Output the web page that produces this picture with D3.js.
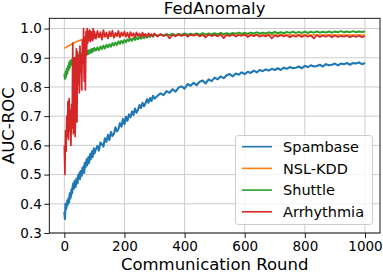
<!DOCTYPE html>
<html>
<head>
<meta charset="utf-8">
<script src="https://cdn.jsdelivr.net/npm/d3@7"></script>
<style>
  html, body { margin: 0; padding: 0; background: #fff; }
  svg { display: block; font-family: "DejaVu Sans", sans-serif; }
</style>
</head>
<body>
<svg id="chart" width="383" height="274"></svg>
<script>
// ---------- data ----------
const title = "FedAnomaly";
const xLabel = "Communication Round";
const yLabel = "AUC-ROC";
const seriesNames = ["Spambase", "NSL-KDD", "Shuttle", "Arrhythmia"];
const xTicks = [0, 200, 400, 600, 800, 1000];
const yTicks = [0.3, 0.4, 0.5, 0.6, 0.7, 0.8, 0.9, 1.0];

// rounds shared by Spambase, Shuttle, Arrhythmia
const roundsDense = [].concat(
  d3.range(0, 101, 2),
  d3.range(105, 301, 5),
  d3.range(310, 1001, 10)
);

const spambase = [
  0.372,0.348,0.400,0.382,0.392,0.412,0.398,0.420,0.405,0.436,0.418,0.428,0.450,0.436,0.462,0.470,0.452,0.478,0.466,0.458,
  0.486,0.480,0.470,0.498,0.490,0.505,0.484,0.512,0.500,0.496,0.522,0.514,0.528,0.506,0.540,0.524,0.534,0.552,0.532,0.546,
  0.560,0.540,0.556,0.570,0.552,0.566,0.580,0.560,0.574,0.590,0.572,
  0.586,0.598,0.582,0.610,0.604,0.596,0.624,0.612,0.636,0.618,0.646,0.632,0.640,0.662,0.648,0.656,0.676,0.664,0.690,0.672,
  0.698,0.684,0.706,0.696,0.716,0.704,0.726,0.712,0.722,0.738,0.728,0.746,0.734,0.744,0.758,0.746,0.762,0.752,0.770,0.760,
  0.770,0.778,0.772,0.786,0.780,0.792,0.784,0.798,0.802,0.794,
  0.810,0.804,0.814,0.806,0.818,0.822,0.812,0.826,0.820,0.832,
  0.826,0.836,0.830,0.840,0.844,0.836,0.846,0.842,0.850,0.844,
  0.852,0.848,0.856,0.850,0.858,0.854,0.860,0.856,0.862,0.858,
  0.864,0.858,0.866,0.862,0.868,0.864,0.866,0.870,0.864,0.872,
  0.868,0.874,0.870,0.872,0.876,0.870,0.878,0.874,0.876,0.880,
  0.874,0.880,0.878,0.882,0.876,0.882,0.880,0.884,0.878,0.882
];

const shuttle = [
  0.845,0.828,0.852,0.835,0.862,0.846,0.872,0.858,0.884,0.866,0.890,0.874,0.892,0.882,0.896,0.882,0.900,0.886,0.898,0.892,
  0.905,0.891,0.906,0.898,0.910,0.896,0.911,0.902,0.913,0.901,0.916,0.906,0.915,0.908,0.919,0.908,0.921,0.912,0.922,0.912,
  0.925,0.914,0.926,0.918,0.927,0.918,0.930,0.920,0.931,0.924,0.933,
  0.925,0.935,0.926,0.938,0.930,0.941,0.932,0.944,0.936,0.946,0.938,0.950,0.942,0.952,0.944,0.956,0.948,0.958,0.950,0.961,
  0.953,0.963,0.957,0.966,0.958,0.968,0.961,0.969,0.963,0.972,0.965,0.973,0.967,0.975,0.969,0.977,0.971,0.978,0.972,0.979,
  0.975,0.980,0.976,0.981,0.977,0.982,0.977,0.981,0.978,0.983,0.978,0.982,0.979,0.983,0.979,0.984,0.980,0.983,0.980,0.984,
  0.980,0.985,0.981,0.984,0.981,0.985,0.982,0.986,0.982,0.985,0.982,0.986,0.983,0.987,0.983,0.986,0.983,0.987,0.984,0.988,
  0.984,0.987,0.984,0.988,0.985,0.989,0.985,0.988,0.985,0.989,0.985,0.989,0.986,0.990,0.986,0.989,0.986,0.990,0.986,0.990,
  0.987,0.991,0.987,0.990,0.987,0.991,0.987,0.990,0.988,0.990
];

const arrhythmia = [
  0.60,0.50,0.65,0.58,0.70,0.63,0.75,0.62,0.76,0.65,0.72,0.60,0.74,0.66,0.95,0.64,0.70,0.90,0.63,0.76,
  0.93,0.68,0.92,0.81,0.90,0.78,0.94,0.85,0.91,0.79,0.96,0.88,1.00,0.82,0.97,0.79,0.99,0.91,1.00,0.95,
  0.99,0.96,0.995,0.955,0.99,0.962,0.988,0.958,1.00,0.965,0.99,
  0.965,0.992,0.970,0.988,0.962,0.995,0.972,0.986,0.966,0.990,0.974,0.993,0.968,0.985,0.975,0.992,0.970,0.987,0.976,0.990,
  0.972,0.986,0.968,0.988,0.975,0.984,0.970,0.987,0.975,0.983,0.972,0.986,0.974,0.982,0.970,0.984,0.975,0.981,0.973,0.983,
  0.972,0.981,0.974,0.980,0.966,0.979,0.973,0.982,0.974,0.980,0.972,0.979,0.975,0.981,0.973,0.978,0.970,0.980,0.974,0.979,
  0.973,0.980,0.967,0.978,0.974,0.980,0.972,0.978,0.975,0.980,0.971,0.978,0.974,0.979,0.972,0.977,0.973,0.979,0.966,0.977,
  0.972,0.978,0.973,0.977,0.970,0.976,0.972,0.978,0.971,0.977,0.972,0.976,0.966,0.977,0.971,0.976,0.972,0.977,0.970,0.976,
  0.971,0.975,0.972,0.976,0.970,0.975,0.971,0.976,0.970,0.974
];

const nslRounds = [0,5,10,15,20,25,30,40,50,60,75,100,150,200,300,400,500,600,700,800,900,1000];
const nslkdd = [0.932,0.935,0.938,0.941,0.944,0.947,0.950,0.955,0.959,0.962,0.966,0.970,0.974,0.976,0.977,0.977,0.978,0.978,0.978,0.978,0.978,0.978];

const colors = ["#1f77b4", "#ff7f0e", "#2ca02c", "#d62728"];

// ---------- layout ----------
const svg = d3.select("#chart");
const L = 49.3, R = 380, T = 18.3, B = 233;

const x = d3.scaleLinear().domain([-50, 1050]).range([L, R]);
const y = d3.scaleLinear().domain([0.3, 1.035]).range([B, T]);

svg.append("defs").append("clipPath").attr("id", "clip")
  .append("rect").attr("x", L).attr("y", T).attr("width", R - L).attr("height", B - T);

// grid
const grid = svg.append("g");
grid.selectAll(".gx").data(xTicks).enter().append("line")
  .attr("x1", d => x(d)).attr("x2", d => x(d)).attr("y1", T).attr("y2", B)
  .attr("stroke", "#cccccc").attr("stroke-width", 1);
grid.selectAll(".gy").data(yTicks).enter().append("line")
  .attr("x1", L).attr("x2", R).attr("y1", d => y(d)).attr("y2", d => y(d))
  .attr("stroke", "#cccccc").attr("stroke-width", 1);

// series
const series = [
  { name: seriesNames[0], xs: roundsDense, ys: spambase, c: colors[0], w: 2.1 },
  { name: seriesNames[1], xs: nslRounds, ys: nslkdd, c: colors[1], w: 1.6 },
  { name: seriesNames[2], xs: roundsDense, ys: shuttle, c: colors[2], w: 2.0 },
  { name: seriesNames[3], xs: roundsDense, ys: arrhythmia, c: colors[3], w: 1.7 }
];
const line = d3.line().x(d => x(d[0])).y(d => y(d[1]));
const lines = svg.append("g").attr("clip-path", "url(#clip)");
series.forEach(s => {
  lines.append("path")
    .datum(d3.zip(s.xs, s.ys))
    .attr("d", line)
    .attr("fill", "none")
    .attr("stroke", s.c)
    .attr("stroke-width", s.w)
    .attr("stroke-linejoin", "round");
});

// axes
const xAxis = d3.axisBottom(x).tickValues(xTicks).tickSize(5).tickPadding(3).tickFormat(d3.format("d"));
const yAxis = d3.axisLeft(y).tickValues(yTicks).tickSize(5).tickPadding(2.5).tickFormat(d3.format(".1f"));

const gx = svg.append("g").attr("transform", `translate(0,${B})`).call(xAxis);
const gy = svg.append("g").attr("transform", `translate(${L},0)`).call(yAxis);
[gx, gy].forEach(g => {
  g.select(".domain").remove();
  g.selectAll("text").attr("font-size", 13.5).attr("fill", "#000").attr("font-family", "DejaVu Sans");
  g.selectAll("line").attr("stroke", "#000").attr("stroke-width", 0.9);
});

// frame
svg.append("rect").attr("x", L).attr("y", T).attr("width", R - L).attr("height", B - T)
  .attr("fill", "none").attr("stroke", "#000").attr("stroke-width", 0.9);

// title & labels
svg.append("text").attr("x", (L + R) / 2).attr("y", 14).attr("text-anchor", "middle")
  .attr("font-size", 16.5).text(title);
svg.append("text").attr("x", (L + R) / 2).attr("y", 270).attr("text-anchor", "middle")
  .attr("font-size", 16.5).text(xLabel);
svg.append("text").attr("transform", `translate(14,${(T + B) / 2}) rotate(-90)`)
  .attr("text-anchor", "middle").attr("font-size", 16.5).text(yLabel);

// legend
const lg = svg.append("g");
lg.append("rect").attr("x", 235.5).attr("y", 135.5).attr("width", 137).attr("height", 89)
  .attr("rx", 3).attr("fill", "#fff").attr("fill-opacity", 0.8).attr("stroke", "#cccccc");
seriesNames.forEach((n, i) => {
  const yy = 146.7 + i * 21.7;
  lg.append("line").attr("x1", 242).attr("x2", 272).attr("y1", yy).attr("y2", yy)
    .attr("stroke", colors[i]).attr("stroke-width", 1.6);
  lg.append("text").attr("x", 283).attr("y", yy).attr("dy", "0.36em")
    .attr("font-size", 14.5).text(n);
});
</script>
</body>
</html>
